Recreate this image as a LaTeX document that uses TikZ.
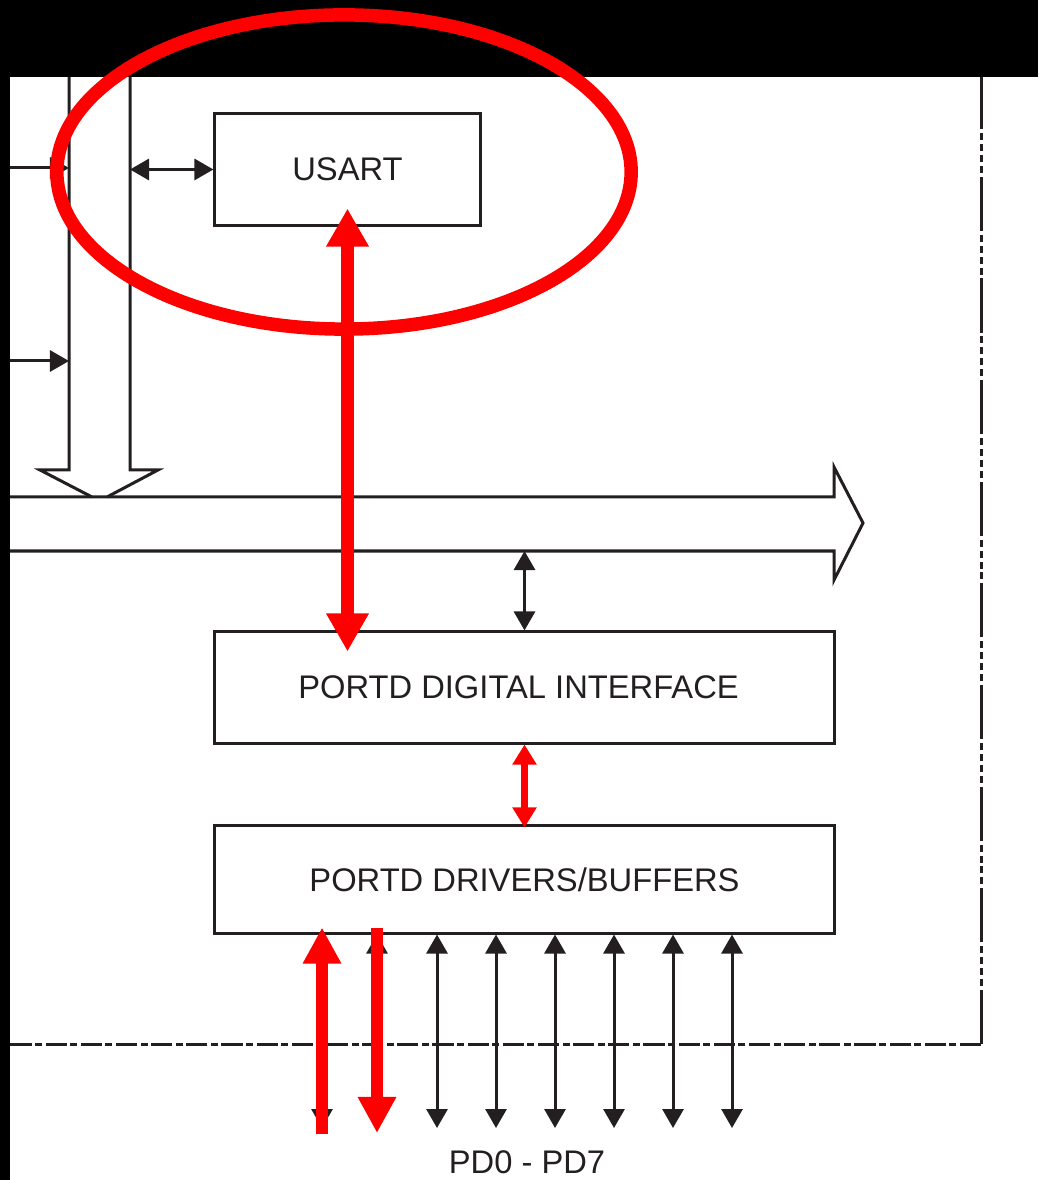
\documentclass[tikz,border=0pt]{standalone}
\usepackage{fontspec}
\setmainfont{Liberation Sans}
\usetikzlibrary{arrows.meta}
\definecolor{ink}{HTML}{231F20}
\tikzset{
	blockbox/.style={draw=ink, line width=0.03cm, text=ink, font=\fontsize{9.3}{11}\selectfont},
	busline/.style={draw=ink, line width=0.03cm},
	inkarrow/.style={draw=ink, line width=0.03cm, >={Triangle[length=1.9mm,width=2.1mm]}},
	framev/.style={draw=ink, line width=0.03cm, dash pattern=on 15.4pt off 1.1pt on 2pt off 1.1pt on 2pt off 1.1pt on 2pt off 1.1pt on 2pt off 1.1pt},
	frameh/.style={draw=ink, line width=0.03cm, dash pattern=on 6pt off 1pt on 2pt off 1pt},
	redmark/.style={draw=red, line width=0.135cm},
	bigred/.style={draw=red, line width=0.13cm, >={Triangle[length=3.8mm,width=4mm]}},
	pinred/.style={draw=red, line width=0.12cm, >={Triangle[length=3.6mm,width=3.6mm]}},
	smallred/.style={draw=red, line width=0.07cm, >={Triangle[length=2mm,width=2.3mm]}}
}

\begin{document}
\begin{tikzpicture}[x=0.01cm, y=-0.01cm]
	%%%%% START %%%%%
	\useasboundingbox (0,0) rectangle (1038,1180);
	
	% port outline
	\draw[framev] (981,1044) -- (981,77);
	\draw[frameh] (981,1044) -- (10,1044);
	
	% data bus
	\coordinate (lb1) at (69,77);
	\coordinate (rb1) at (130,77);
	\coordinate (bus) at (10,551);
	\draw[busline] (lb1) -- (69,470) -- (40,470) -- (92,497);
	\draw[busline] (rb1) -- (130,470) -- (158,470) -- (107,497);
	\draw[busline] (10,497) -- (834,497) -- (834,467) -- (863,523) -- (834,580) -- (834,551) -- (bus);
	
	\node[blockbox, minimum width=2.65cm, minimum height=1.11cm] (usart) at (347.5,169.5) {USART};
	\node[blockbox, minimum width=6.19cm, minimum height=1.11cm] (dig) at (524.5,687.5) {PORTD DIGITAL INTERFACE\hspace*{0.12cm}};
	\node[blockbox, minimum width=6.19cm, minimum height=1.07cm] (drv) at (524.5,879.5) {PORTD DRIVERS/BUFFERS};
	
	\coordinate (in1) at (10,168);
	\coordinate (in2) at (10,361);
	\draw[inkarrow, ->] (in1) -- (in1 -| lb1);
	\draw[inkarrow, ->] (in2) -- (in2 -| lb1);
	\draw[inkarrow, <->] (usart.west -| rb1) -- (usart.west);
	\draw[inkarrow, <->] (dig.north |- bus) -- (dig.north);
	
	\foreach \x [count=\i] in {322,377,437,496,555,614,673,732}{
		\coordinate (pin\i) at (\x,1128);
		\draw[inkarrow, <->] (drv.south -| pin\i) -- (pin\i);
	}
	\node[text=ink, font=\fontsize{9.3}{11}\selectfont] (pins) at (527,1162) {PD0 - PD7};
	
	\fill (0,0) rectangle (1038,77);
	\fill (0,0) rectangle (10,1180);
	
	% highlighted path
	\draw[redmark] (344,172) ellipse [x radius=2.87cm, y radius=1.57cm];
	\draw[bigred, <->, shorten <=-0.18cm, shorten >=-0.21cm] (usart.south) -- (usart.south |- dig.north);
	\draw[smallred, <->, shorten >=-0.03cm] (dig.south) -- (drv.north);
	\coordinate (rx1) at (322,1134);
	\coordinate (rx2) at (377,1133);
	\draw[pinred, ->, shorten >=-0.07cm] (rx1) -- (drv.south -| rx1);
	\draw[pinred, ->, shorten <=-0.07cm] (drv.south -| rx2) -- (rx2);
	
	%%%%% END %%%%%
\end{tikzpicture}
\end{document}
